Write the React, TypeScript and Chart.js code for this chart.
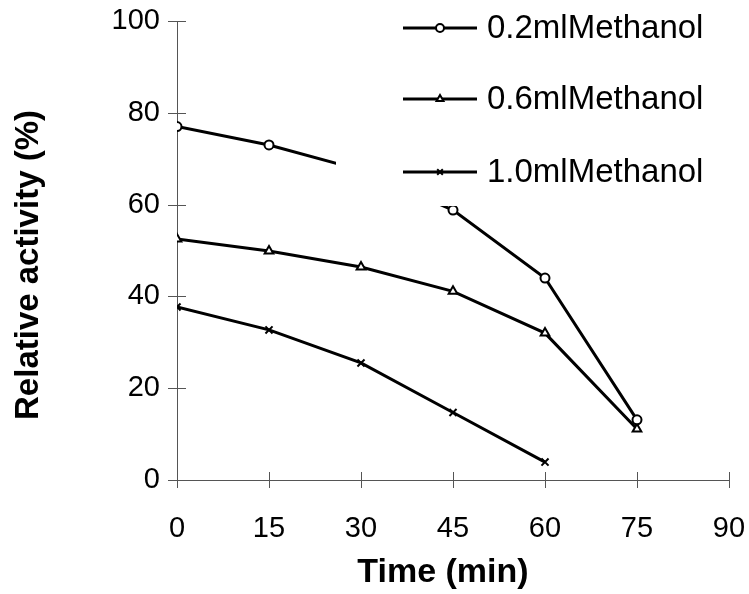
import React, { useEffect, useRef } from "react"
import { Chart, registerables } from "chart.js"
import { drawPoint } from "chart.js/helpers"

Chart.register(...registerables)

const times = [0, 15, 30, 45, 60, 75]
const methanol02 = [77, 73, 67.5, 58.8, 44, 13.1]
const methanol06 = [52.5, 49.9, 46.4, 41.1, 32, 11.1]
const methanol10 = [37.7, 32.7, 25.5, 14.7, 3.9]
const seriesLabels = ["0.2mlMethanol", "0.6mlMethanol", "1.0mlMethanol"]
const markerStyles = ["circle", "triangle", "crossRot"]
const xTitle = "Time (min)"
const yTitle = "Relative activity (%)"

const FONT = "'Liberation Sans', Arial, sans-serif"

// tick marks that cross the axis lines, like the original
const crossTicks = {
    id: "crossTicks",
    afterDraw(chart: any) {
        const { ctx } = chart
        const x = chart.scales.x
        const y = chart.scales.y
        ctx.save()
        ctx.strokeStyle = "#555"
        ctx.lineWidth = 1
        ctx.beginPath()
        x.ticks.forEach((t: any) => {
            const px = Math.round(x.getPixelForValue(t.value)) + 0.5
            ctx.moveTo(px, y.bottom - 8)
            ctx.lineTo(px, y.bottom + 8)
        })
        y.ticks.forEach((t: any) => {
            const py = Math.round(y.getPixelForValue(t.value)) + 0.5
            ctx.moveTo(x.left - 9, py)
            ctx.lineTo(x.left + 9, py)
        })
        ctx.stroke()
        ctx.restore()
    },
}

// axis titles, placed where the original has them
const axisTitles = {
    id: "axisTitles",
    afterDraw(chart: any) {
        const { ctx } = chart
        ctx.save()
        ctx.fillStyle = "#000"
        ctx.font = `bold 34px ${FONT}`
        ctx.textAlign = "center"
        ctx.textBaseline = "middle"
        ctx.fillText(xTitle, 443, 573)
        ctx.font = `bold 33px ${FONT}`
        ctx.translate(29, 265)
        ctx.rotate(-Math.PI / 2)
        ctx.fillText(yTitle, 0, 0)
        ctx.restore()
    },
}

// legend box on white, over the plot, line sample with marker in the middle
const boxLegend = {
    id: "boxLegend",
    afterDraw(chart: any) {
        const { ctx } = chart
        ctx.save()
        ctx.fillStyle = "#fff"
        ctx.fillRect(336, 0, 749 - 336, 206)
        const rows = [28, 99, 172]
        chart.data.datasets.forEach((ds: any, i: number) => {
            const yy = rows[i]
            ctx.strokeStyle = "#000"
            ctx.lineWidth = 3
            ctx.beginPath()
            ctx.moveTo(403, yy)
            ctx.lineTo(477, yy)
            ctx.stroke()
            ctx.fillStyle = "#fff"
            ctx.lineWidth = 2
            drawPoint(ctx, { pointStyle: ds.pointStyle, radius: 4, rotation: 0, borderWidth: 2 }, 440, yy)
            ctx.fillStyle = "#000"
            ctx.font = `33px ${FONT}`
            ctx.textBaseline = "middle"
            ctx.textAlign = "left"
            ctx.fillText(ds.label, 487, yy + 1)
        })
        ctx.restore()
    },
}

export default function App() {
    const chartRef = useRef<HTMLCanvasElement>(null)
    const chartInstance = useRef<Chart | null>(null)

    useEffect(() => {
        if (!chartRef.current) return
        document.body.style.margin = "0"
        if (chartInstance.current) chartInstance.current.destroy()
        const ctx = chartRef.current.getContext("2d")
        if (!ctx) return

        const series = [methanol02, methanol06, methanol10]
        const datasets = series.map((vals, i) => ({
            label: seriesLabels[i],
            data: vals.map((v, j) => ({ x: times[j], y: v })),
            borderColor: "#000",
            borderWidth: 3,
            pointStyle: markerStyles[i],
            pointRadius: i === 0 ? 4.5 : 5,
            pointBorderWidth: 2,
            pointBackgroundColor: "#fff",
            pointBorderColor: "#000",
            tension: 0,
        }))

        chartInstance.current = new Chart(ctx, {
            type: "line",
            data: { datasets },
            options: {
                responsive: true,
                maintainAspectRatio: false,
                animation: false,
                layout: { padding: { left: 0, top: 21, right: 20, bottom: 4 } },
                plugins: {
                    legend: { display: false },
                    tooltip: { enabled: false },
                },
                scales: {
                    x: {
                        type: "linear",
                        min: 0,
                        max: 90,
                        grid: { display: false, drawTicks: false },
                        border: { color: "#555", width: 1 },
                        ticks: {
                            stepSize: 15,
                            padding: 32,
                            color: "#000",
                            font: { family: FONT, size: 29 },
                            maxRotation: 0,
                        },
                        afterFit: (scale: any) => {
                            scale.height = 110
                            scale.paddingLeft = 0
                            scale.paddingRight = 0
                        },
                    },
                    y: {
                        min: 0,
                        max: 100,
                        grid: { display: false, drawTicks: false },
                        border: { color: "#555", width: 1 },
                        ticks: {
                            stepSize: 20,
                            padding: 17,
                            color: "#000",
                            font: { family: FONT, size: 29 },
                        },
                        afterFit: (scale: any) => {
                            scale.width = 177
                            scale.paddingTop = 0
                            scale.paddingBottom = 0
                        },
                    },
                },
            },
            plugins: [crossTicks, axisTitles, boxLegend],
        })

        return () => {
            if (chartInstance.current) {
                chartInstance.current.destroy()
                chartInstance.current = null
            }
        }
    }, [])

    return (
        <div style={{ width: 749, height: 594, position: "relative", background: "#fff" }}>
            <canvas ref={chartRef} />
        </div>
    )
}
